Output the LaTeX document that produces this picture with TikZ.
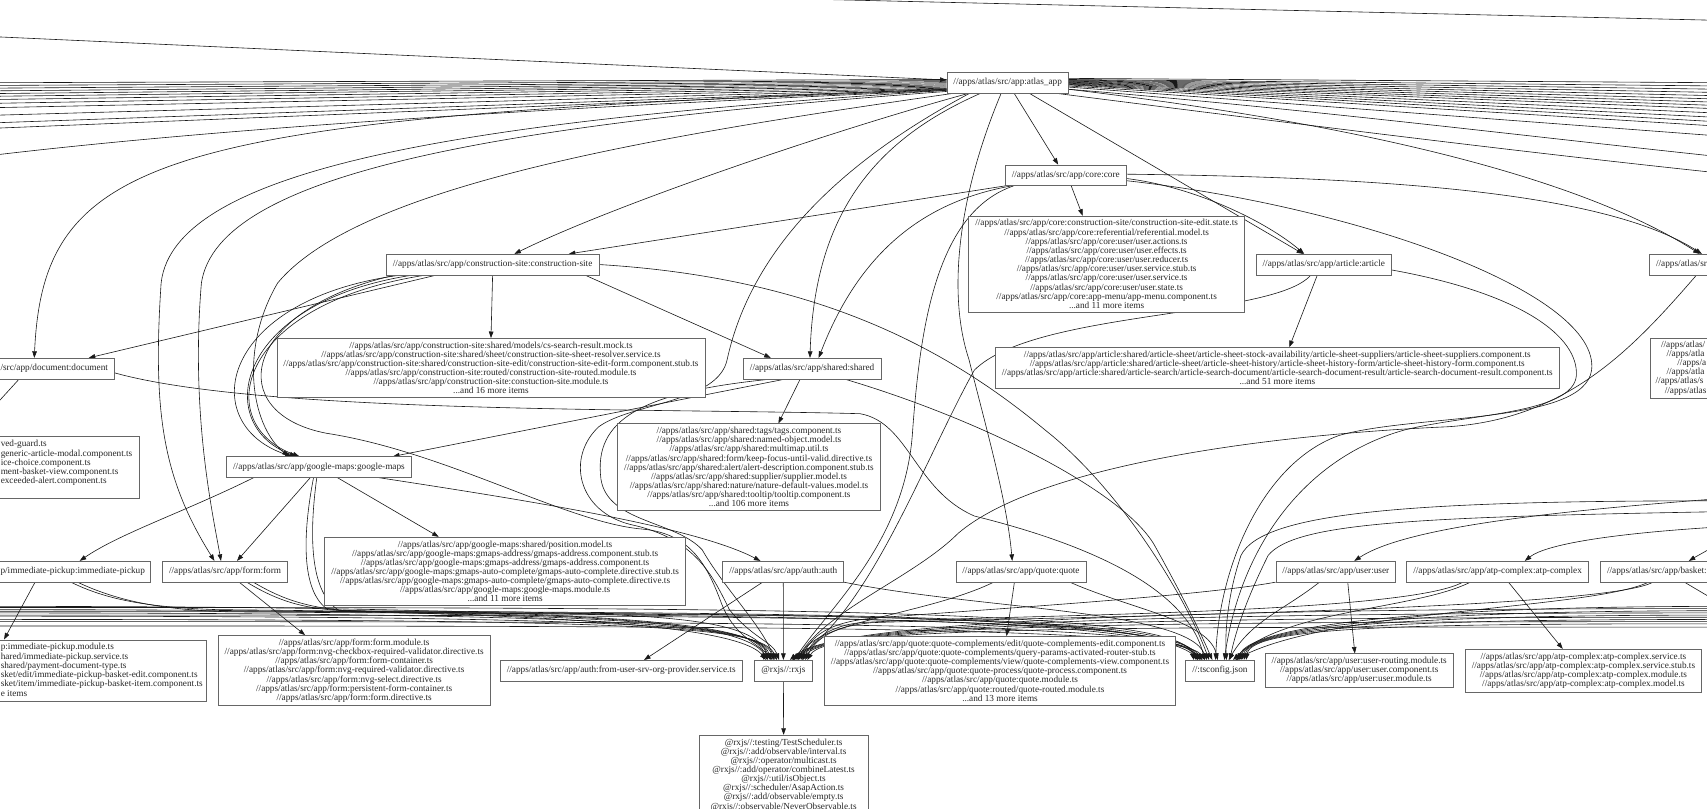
\documentclass[tikz,border=0pt]{standalone}
\usepackage{fontspec}
\setmainfont{Liberation Serif}
\usetikzlibrary{arrows.meta}
\pgfdeclarelayer{bg}
\pgfsetlayers{bg,main}
\newcommand{\gvfont}{\fontsize{8.5pt}{8.4pt}\selectfont}
\begin{document}
\begin{tikzpicture}[x=1pt,y=-1pt,
  box/.style={draw=black!60, line width=0.55pt, fill=white, inner xsep=6pt, inner ysep=3.2pt, align=center, font=\gvfont, text=black!85, minimum height=19pt},
  frag/.style={inner sep=0pt, font=\gvfont, text=black!85, anchor=west},
  dep/.style={draw=black!90, line width=0.55pt, -{Triangle[length=6pt,width=4.2pt]}},
  ln/.style={draw=black!90, line width=0.55pt},
]
\useasboundingbox (0,0) rectangle (1568,743);

% ---------------- nodes ----------------
\node[box] (atlas) at (925.6,76) {//apps/atlas/src/app:atlas\_app};
\node[box] (core) at (979,161) {//apps/atlas/src/app/core:core};
\node[box] (corefiles) at (1016.5,242.5) {//apps/atlas/src/app/core:construction-site/construction-site-edit.state.ts\\//apps/atlas/src/app/core:referential/referential.model.ts\\//apps/atlas/src/app/core:user/user.actions.ts\\//apps/atlas/src/app/core:user/user.effects.ts\\//apps/atlas/src/app/core:user/user.reducer.ts\\//apps/atlas/src/app/core:user/user.service.stub.ts\\//apps/atlas/src/app/core:user/user.service.ts\\//apps/atlas/src/app/core:user/user.state.ts\\//apps/atlas/src/app/core:app-menu/app-menu.component.ts\\...and 11 more items};
\node[box] (cs) at (452.5,243) {//apps/atlas/src/app/construction-site:construction-site};
\node[box] (article) at (1216,243) {//apps/atlas/src/app/article:article};
\node[box, anchor=west, minimum width=150pt] (rc1) at (1515,243) {};
\node[box] (csfiles) at (451,338) {//apps/atlas/src/app/construction-site:shared/models/cs-search-result.mock.ts\\//apps/atlas/src/app/construction-site:shared/sheet/construction-site-sheet-resolver.service.ts\\//apps/atlas/src/app/construction-site:shared/construction-site-edit/construction-site-edit-form.component.stub.ts\\//apps/atlas/src/app/construction-site:routed/construction-site-routed.module.ts\\//apps/atlas/src/app/construction-site:constuction-site.module.ts\\...and 16 more items};
\node[box, minimum width=151pt] (document) at (29.5,338.5) {};
\node[box] (shared) at (746,338.5) {//apps/atlas/src/app/shared:shared};
\node[box] (articlefiles) at (1173.3,338) {//apps/atlas/src/app/article:shared/article-sheet/article-sheet-stock-availability/article-sheet-suppliers/article-sheet-suppliers.component.ts\\//apps/atlas/src/app/article:shared/article-sheet/article-sheet-history/article-sheet-history-form/article-sheet-history-form.component.ts\\//apps/atlas/src/app/article:shared/article-search/article-search-document/article-search-document-result/article-search-document-result.component.ts\\...and 51 more items};
\node[box, anchor=west, minimum width=200pt, minimum height=55pt] (rc2) at (1515.6,338) {};
\node[box] (googlemaps) at (293,429) {//apps/atlas/src/app/google-maps:google-maps};
\node[box, anchor=east, minimum width=300pt, minimum height=57pt] (docfiles) at (128,429.5) {};
\node[box] (sharedfiles) at (688,429) {//apps/atlas/src/app/shared:tags/tags.component.ts\\//apps/atlas/src/app/shared:named-object.model.ts\\//apps/atlas/src/app/shared:multimap.util.ts\\//apps/atlas/src/app/shared:form/keep-focus-until-valid.directive.ts\\//apps/atlas/src/app/shared:alert/alert-description.component.stub.ts\\//apps/atlas/src/app/shared:supplier/supplier.model.ts\\//apps/atlas/src/app/shared:nature/nature-default-values.model.ts\\//apps/atlas/src/app/shared:tooltip/tooltip.component.ts\\...and 106 more items};
\node[box, minimum width=206pt] (imm) at (35.2,525) {};
\node[box] (form) at (206.7,525) {//apps/atlas/src/app/form:form};
\node[box] (gmfiles) at (464,524.8) {//apps/atlas/src/app/google-maps:shared/position.model.ts\\//apps/atlas/src/app/google-maps:gmaps-address/gmaps-address.component.stub.ts\\//apps/atlas/src/app/google-maps:gmaps-address/gmaps-address.component.ts\\//apps/atlas/src/app/google-maps:gmaps-auto-complete/gmaps-auto-complete.directive.stub.ts\\//apps/atlas/src/app/google-maps:gmaps-auto-complete/gmaps-auto-complete.directive.ts\\//apps/atlas/src/app/google-maps:google-maps.module.ts\\...and 11 more items};
\node[box] (auth) at (719.5,525) {//apps/atlas/src/app/auth:auth};
\node[box] (quote) at (937.8,525) {//apps/atlas/src/app/quote:quote};
\node[box] (user) at (1227,525) {//apps/atlas/src/app/user:user};
\node[box] (atp) at (1375.6,525) {//apps/atlas/src/app/atp-complex:atp-complex};
\node[box, anchor=west, minimum width=192pt] (basket) at (1470,525) {};
\node[box, anchor=east, minimum width=400pt, minimum height=56.6pt] (immfiles) at (190,616) {};
\node[box] (formfiles) at (325.3,616) {//apps/atlas/src/app/form:form.module.ts\\//apps/atlas/src/app/form:nvg-checkbox-required-validator.directive.ts\\//apps/atlas/src/app/form:form-container.ts\\//apps/atlas/src/app/form:nvg-required-validator.directive.ts\\//apps/atlas/src/app/form:nvg-select.directive.ts\\//apps/atlas/src/app/form:persistent-form-container.ts\\//apps/atlas/src/app/form:form.directive.ts};
\node[box] (authprov) at (570.6,616) {//apps/atlas/src/app/auth:from-user-srv-org-provider.service.ts};
\node[box, minimum width=54pt] (rxjs) at (719.6,616) {@rxjs//:rxjs};
\node[box] (quotefiles) at (918.6,616) {//apps/atlas/src/app/quote:quote-complements/edit/quote-complements-edit.component.ts\\//apps/atlas/src/app/quote:quote-complements/query-params-activated-router-stub.ts\\//apps/atlas/src/app/quote:quote-complements/view/quote-complements-view.component.ts\\//apps/atlas/src/app/quote:quote-process/quote-process.component.ts\\//apps/atlas/src/app/quote:quote.module.ts\\//apps/atlas/src/app/quote:routed/quote-routed.module.ts\\...and 13 more items};
\node[box] (tsconfig) at (1120.6,616) {//:tsconfig.json};
\node[box] (userfiles) at (1248.5,616) {//apps/atlas/src/app/user:user-routing.module.ts\\//apps/atlas/src/app/user:user.component.ts\\//apps/atlas/src/app/user:user.module.ts};
\node[box] (atpfiles) at (1454.5,616) {//apps/atlas/src/app/atp-complex:atp-complex.service.ts\\//apps/atlas/src/app/atp-complex:atp-complex.service.stub.ts\\//apps/atlas/src/app/atp-complex:atp-complex.module.ts\\//apps/atlas/src/app/atp-complex:atp-complex.model.ts};
\node[box, anchor=north, minimum width=155pt] (rxjsfiles) at (719.8,675) {@rxjs//:testing/TestScheduler.ts\\@rxjs//:add/observable/interval.ts\\@rxjs//:operator/multicast.ts\\@rxjs//:add/operator/combineLatest.ts\\@rxjs//:util/isObject.ts\\@rxjs//:scheduler/AsapAction.ts\\@rxjs//:add/observable/empty.ts\\@rxjs//:observable/NeverObservable.ts};

% visible parts of the labels of boxes cut by the page edge
\node[frag] (doclbl) at (0.3,338.5) {/src/app/document:document};
\node[frag] (immlbl) at (0.3,525) {p/immediate-pickup:immediate-pickup};
\node[frag] (rc1lbl) at (1521,243) {//apps/atlas/sr};
\node[frag] (basklbl) at (1476,525) {//apps/atlas/src/app/basket:};
\node[frag] (df1) at (0.5,408.5) {ved-guard.ts};
\node[frag] (df2) at (0.5,416.9) {generic-article-modal.component.ts};
\node[frag] (df3) at (0.5,425.3) {ice-choice.component.ts};
\node[frag] (df4) at (0.5,433.7) {ment-basket-view.component.ts};
\node[frag] (df5) at (0.5,442.1) {exceeded-alert.component.ts};
\node[frag] (if1) at (0.5,595) {p:immediate-pickup.module.ts};
\node[frag] (if2) at (0.5,603.4) {hared/immediate-pickup.service.ts};
\node[frag] (if3) at (0.5,611.8) {shared/payment-document-type.ts};
\node[frag] (if4) at (0.5,620.2) {sket/edit/immediate-pickup-basket-edit.component.ts};
\node[frag] (if5) at (0.5,628.6) {sket/item/immediate-pickup-basket-item.component.ts};
\node[frag] (if6) at (0.5,637) {e items};
\node[frag] (rf1) at (1525.6,317) {//apps/atlas/};
\node[frag] (rf2) at (1530.6,325.4) {//apps/atla};
\node[frag] (rf3) at (1540.6,333.8) {//apps/a};
\node[frag] (rf4) at (1530.6,342.2) {//apps/atla};
\node[frag] (rf5) at (1520.6,350.6) {//apps/atlas/s};
\node[frag] (rf6) at (1529,359) {//apps/atlas};

% ---------------- edges ----------------
\begin{pgfonlayer}{bg}
\fill[white] (0,0) rectangle (1568,743);
\clip (0,0) rectangle (1568,743);

% top
\coordinate (oL0) at (-10,33.5);
\draw[dep] (oL0) -- (atlas);
\coordinate (oT0) at (400,-8.8);
\coordinate (oT1) at (1600,19.2);
\draw[ln] (oT0) -- (oT1);

% bundle to the left
\foreach \i/\s/\e in {1/3/76,2/2/78.5,3/1/81,4/0/83.5,5/-1/86,6/-2/88.5,7/-3/91.5,8/-4/95,9/-5/99,10/-5.5/106,11/-6/113,12/-6.5/118}{
  \coordinate (lb\i) at (-10,\e);
  \draw[ln] ([yshift=\s pt]atlas.west) -- (lb\i);
}
\coordinate (lb13) at (-10,143);
\draw[ln] ([yshift=-7pt]atlas.west) .. controls (600,95) and (250,112) .. (lb13);

% bundle to the right
\foreach \i/\s/\e in {1/4/76,2/3/79,3/2.5/82,4/2/85,5/1.5/88,6/1/91,7/0.5/94,8/0/97,9/-0.5/100,10/-1/104,11/-1.5/108,12/-2/112,13/-3/116,14/-4/125}{
  \coordinate (rb\i) at (1580,\e);
  \draw[ln] ([yshift=\s pt]atlas.east) -- (rb\i);
}
\coordinate (rb15) at (1580,144);
\draw[ln] ([yshift=-6pt]atlas.east) .. controls (1200,100) and (1400,125) .. (rb15);
\coordinate (rb16) at (1580,159);
\draw[ln] ([xshift=45pt]atlas.south) .. controls (1200,115) and (1400,140) .. (rb16);

% atlas out
\draw[dep] ([xshift=6pt]atlas.south) -- ([xshift=-7pt]core.north);
\draw[dep] ([xshift=20pt]atlas.south) -- ([xshift=-19pt]article.north);
\draw[dep] ([xshift=-36pt]atlas.south) .. controls (757,122) and (560,190) .. ([xshift=20pt]cs.north);
\draw[dep] ([yshift=-6pt]atlas.west) .. controls (150,108) and (40,140) .. ([xshift=2pt]document.north);
\draw[dep] ([yshift=-7pt]atlas.west) .. controls (450,110) and (160,150) .. (148,260) .. controls (140,380) and (150,440) .. ([xshift=-9.7pt]form.north);
\draw[dep] ([yshift=-8pt]atlas.west) .. controls (450,115) and (200,160) .. (185,260) .. controls (175,380) and (195,470) .. ([xshift=-3.7pt]form.north);
\draw[dep] ([xshift=-50pt]atlas.south) .. controls (600,125) and (330,170) .. (255,260) .. controls (220,320) and (230,390) .. ([xshift=-28pt]googlemaps.north);
\draw[dep] ([xshift=-25pt]atlas.south) .. controls (800,130) and (748,200) .. ([xshift=-2pt]shared.north);
\draw[dep] ([xshift=-6pt]atlas.south) .. controls (880,180) and (870,270) .. (890,330) .. controls (905,390) and (925,460) .. ([xshift=-8pt]quote.north);
\draw[dep] ([yshift=-6pt]atlas.east) .. controls (1300,120) and (1470,175) .. ([xshift=-29pt]rc1.north);
\draw[dep] ([xshift=-35pt]atlas.south) .. controls (770,150) and (690,230) .. (668,330) .. controls (660,370) and (580,370) .. (550,392) .. controls (520,420) and (530,470) .. (580,482) .. controls (640,495) and (655,530) .. (670,560) .. controls (690,585) and (710,590) .. ([xshift=-4pt]rxjs.north);

% core out
\draw[dep] (core.south west) -- ([xshift=70pt]cs.north);
\draw[dep] ([xshift=5pt]core.south) -- ([xshift=-22pt]corefiles.north);
\draw[dep] ([yshift=-3pt]core.east) .. controls (1100,172) and (1165,205) .. ([xshift=-18pt]article.north);
\draw[dep] ([yshift=1pt]core.east) .. controls (1300,163) and (1480,180) .. ([xshift=-27pt]rc1.north);
\draw[dep] ([xshift=-50pt]core.south) .. controls (850,185) and (790,230) .. ([xshift=6pt]shared.north);
\draw[dep] ([xshift=-48pt]core.south) .. controls (860,195) and (845,300) .. (838,400) .. controls (830,500) and (760,560) .. ([xshift=10pt]rxjs.north);
\draw[dep] ([yshift=-5pt]core.east) .. controls (1250,190) and (1470,270) .. (1462,340) .. controls (1455,390) and (1300,380) .. (1230,400) .. controls (1160,425) and (1120,520) .. ([xshift=-4pt]tsconfig.north);

% construction site out
\draw[dep] (cs.south) -- (csfiles.north);
\draw[dep] ([xshift=-52pt]cs.south) -- ([xshift=52pt]document.north);
\draw[dep] ([xshift=85pt]cs.south) -- ([xshift=-38pt]shared.north);
\draw[dep] ([xshift=-85pt]cs.south) .. controls (200,275) and (180,390) .. ([xshift=-25pt]googlemaps.north);
\draw[dep] ([xshift=-74pt]cs.south) .. controls (215,278) and (195,390) .. ([xshift=-21pt]googlemaps.north);
\draw[dep] ([xshift=-62pt]cs.south) .. controls (215,280) and (195,390) .. ([xshift=-18pt]googlemaps.north);
\draw[dep] ([xshift=-90pt]cs.south) .. controls (220,285) and (205,380) .. (300,398) .. controls (410,415) and (520,480) .. (590,486) .. controls (635,490) and (650,520) .. (663,555) .. controls (675,585) and (695,590) .. ([xshift=-10pt]rxjs.north);
\draw[dep] (cs.east) .. controls (750,255) and (870,320) .. (960,395) .. controls (1030,450) and (1090,550) .. ([xshift=-10pt]tsconfig.north);

% document out
\draw[dep] ([xshift=-12pt]document.south) -- ([xshift=-8pt]docfiles.north);
\draw[dep] ([yshift=-4pt]document.east) .. controls (240,380) and (600,375) .. (790,380) .. controls (835,388) and (840,450) .. (895,474) .. controls (1000,500) and (1090,540) .. ([xshift=-14pt]tsconfig.north);

% shared out
\draw[dep] ([xshift=-11pt]shared.south) -- ([xshift=27pt]sharedfiles.north);
\draw[dep] ([xshift=-25pt]shared.south) -- ([xshift=68pt]googlemaps.north);
\draw[dep] ([xshift=-38pt]shared.south) .. controls (590,360) and (545,385) .. (552,440) .. controls (558,480) and (620,478) .. (645,505) .. controls (665,540) and (700,575) .. ([xshift=-8pt]rxjs.north);
\draw[dep] ([xshift=30pt]shared.south) .. controls (900,385) and (1030,450) .. (1060,500) .. controls (1085,545) and (1100,575) .. ([xshift=-7pt]tsconfig.north);

% article out
\draw[dep] ([xshift=-6pt]article.south) -- ([xshift=11pt]articlefiles.north);
\draw[dep] ([xshift=-12pt]article.south) .. controls (1170,292) and (950,285) .. (895,340) .. controls (850,420) and (800,560) .. ([xshift=8pt]rxjs.north);
\draw[dep] ([yshift=-5pt]article.east) .. controls (1400,270) and (1450,310) .. (1448,345) .. controls (1445,380) and (1350,380) .. (1290,395) .. controls (1200,420) and (1140,500) .. ([xshift=4pt]tsconfig.north);

% rc1 out
\draw[dep] ([xshift=-32pt]rc1.south) .. controls (1500,320) and (1440,385) .. (1330,392) .. controls (1150,400) and (950,430) .. (880,490) .. controls (840,530) and (760,560) .. ([xshift=12pt]rxjs.north);

% google-maps out
\draw[dep] ([xshift=17pt]googlemaps.south) -- ([xshift=-61pt]gmfiles.north);
\draw[dep] ([xshift=-8pt]googlemaps.south) -- ([xshift=11pt]form.north);
\draw[dep] ([xshift=-60pt]googlemaps.south) .. controls (170,470) and (110,490) .. ([xshift=38pt]imm.north);
\draw[dep] ([xshift=55pt]googlemaps.south) .. controls (500,462) and (640,485) .. ([xshift=-21pt]auth.north);
\draw[dep] ([xshift=-5pt]googlemaps.south) .. controls (280,480) and (274,540) .. (300,559) .. controls (330,565) and (670,563) .. ([xshift=-16pt]rxjs.north);
\draw[dep] ([xshift=-2pt]googlemaps.south) .. controls (284,490) and (284,545) .. (312,561) .. controls (700,568) and (1060,565) .. ([xshift=-20pt]tsconfig.north);

% immediate-pickup out
\draw[dep] ([xshift=-3pt]imm.south) -- ([xshift=14pt]immfiles.north);
\draw[dep] ([xshift=30pt]imm.south) .. controls (100,552) and (140,558) .. (200,560) .. controls (500,563) and (680,566) .. ([xshift=-14pt]rxjs.north);
\draw[dep] ([xshift=36pt]imm.south) .. controls (110,553) and (150,560) .. (210,562) .. controls (700,566) and (1060,560) .. ([xshift=-18pt]tsconfig.north);

% form out
\draw[dep] ([xshift=13pt]form.south) -- ([xshift=-45pt]formfiles.north);
\draw[dep] ([xshift=20pt]form.south) .. controls (255,552) and (280,560) .. (320,561) .. controls (600,562) and (690,565) .. ([xshift=-12pt]rxjs.north);
\draw[dep] ([xshift=26pt]form.south) .. controls (262,552) and (285,559) .. (330,562) .. controls (700,565) and (1060,562) .. ([xshift=-16pt]tsconfig.north);

% auth out
\draw[dep] ([xshift=-19pt]auth.south) -- ([xshift=21pt]authprov.north);
\draw[dep] (auth.south) -- (rxjs.north);
\draw[dep] (auth.south east) .. controls (900,560) and (1090,560) .. ([xshift=-12pt]tsconfig.north);

% quote out
\draw[dep] ([xshift=-6pt]quote.south) -- ([xshift=6pt]quotefiles.north);
\draw[dep] ([xshift=-25pt]quote.south) .. controls (850,565) and (750,570) .. ([xshift=14pt]rxjs.north);
\draw[dep] ([xshift=45pt]quote.south) .. controls (1040,560) and (1110,570) .. ([xshift=-2pt]tsconfig.north);

% rxjs out
\draw[dep] (rxjs.south) -- (rxjsfiles.north);

% user out
\draw[dep] ([xshift=11pt]user.south) -- ([xshift=-4pt]userfiles.north);
\draw[dep] (user.south west) .. controls (1100,548) and (900,560) .. (800,568) .. controls (760,572) and (745,585) .. ([xshift=16pt]rxjs.north);
\draw[dep] ([xshift=-15pt]user.south) .. controls (1180,560) and (1150,570) .. ([xshift=8pt]tsconfig.north);

% atp out
\draw[dep] ([xshift=10pt]atp.south) -- ([xshift=-19pt]atpfiles.north);
\draw[dep] ([xshift=-25pt]atp.south) .. controls (1300,560) and (1180,560) .. ([xshift=12pt]tsconfig.north);
\draw[dep] ([xshift=-32pt]atp.south) .. controls (1290,565) and (900,565) .. (790,572) .. controls (760,575) and (745,590) .. ([xshift=18pt]rxjs.north);

% basket out
\draw[dep] ([xshift=-52pt]basket.south) .. controls (1460,560) and (1220,560) .. ([xshift=14pt]tsconfig.north);
\draw[dep] ([xshift=-48pt]basket.south) .. controls (1470,562) and (900,568) .. (800,572) .. controls (760,576) and (748,590) .. ([xshift=20pt]rxjs.north);
\coordinate (oRb) at (1590,560);
\draw[dep] ([xshift=-19pt]basket.south) -- (oRb);

% from off-screen right
\coordinate (oRu) at (1580,458);
\draw[dep] (oRu) .. controls (1420,470) and (1290,485) .. ([xshift=17pt]user.north);
\coordinate (oRa) at (1580,484);
\draw[dep] (oRa) .. controls (1480,490) and (1420,500) .. ([xshift=25pt]atp.north);
\coordinate (oRk) at (1580,498);
\draw[dep] (oRk) .. controls (1570,505) and (1560,510) .. ([xshift=-15pt]basket.north);
\coordinate (oRt1) at (1580,460);
\draw[dep] (oRt1) .. controls (1300,460) and (1160,470) .. (1140,510) .. controls (1128,545) and (1125,580) .. ([xshift=6pt]tsconfig.north);
\coordinate (oRt2) at (1580,470);
\draw[dep] (oRt2) .. controls (1300,475) and (1190,480) .. (1165,510) .. controls (1145,550) and (1135,580) .. ([xshift=9pt]tsconfig.north);

% band from the left
\foreach \i/\y/\d in {1/557/-18,2/560/-15,3/563/-12,4/566/-9,5/569/-6}{
  \coordinate (bla\i) at (-10,\y);
  \draw[dep] (bla\i) .. controls (600,\y) and (700,575) .. ([xshift=\d pt]rxjs.north);
}
\foreach \i/\y/\d in {1/558/-24,2/561.5/-22,3/565/-20,4/571/-17,5/575/-14}{
  \coordinate (blb\i) at (-10,\y);
  \draw[dep] (blb\i) .. controls (700,\y) and (1085,\y) .. ([xshift=\d pt]tsconfig.north);
}
% band from the right
\foreach \i/\y/\d in {1/557/16,2/561/18,3/565/20,4/569/22,5/573/24}{
  \coordinate (bra\i) at (1580,\y);
  \draw[dep] (bra\i) .. controls (1300,\y) and (1150,575) .. ([xshift=\d pt]tsconfig.north);
}
\foreach \i/\y/\d in {1/559/6,2/563/9,3/567/13,4/571/17,5/576/22}{
  \coordinate (brb\i) at (1580,\y);
  \draw[dep] (brb\i) .. controls (1000,\y) and (760,575) .. ([xshift=\d pt]rxjs.north);
}
\end{pgfonlayer}
\end{tikzpicture}
\end{document}
